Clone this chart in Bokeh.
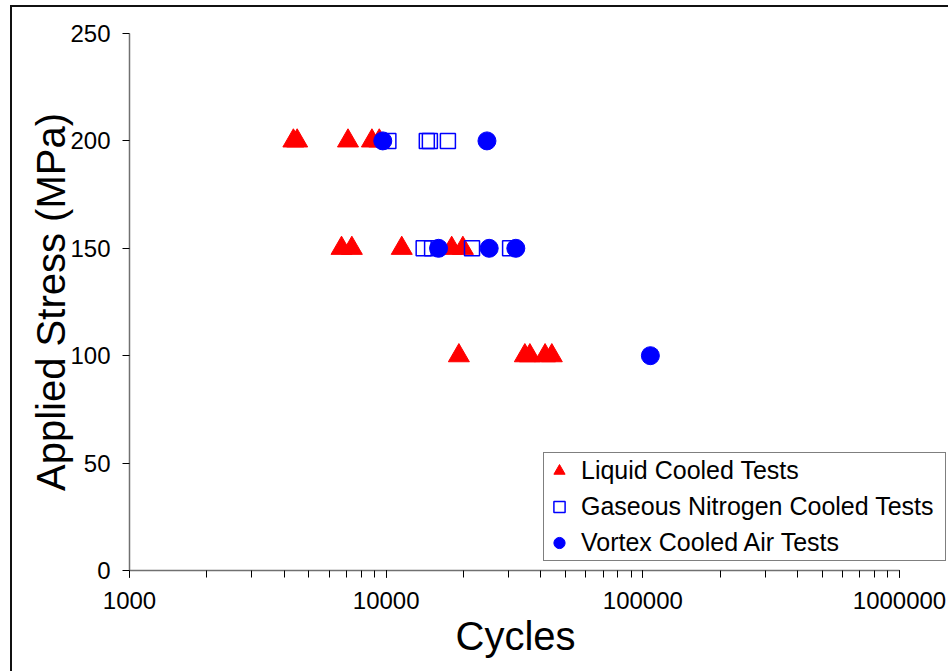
from bokeh.plotting import figure
from bokeh.models import (Range1d, FixedTicker, LogTicker, Legend, LegendItem,
                          InlineStyleSheet, Title)
from bokeh.embed import file_html
from bokeh.resources import INLINE

# Data (cycles, stress in MPa)
liquid_cycles = [4350, 4500, 7100, 8800, 9400, 6700, 7350, 11500, 18000, 19900, 19200, 34700, 36300, 41600, 44200]
liquid_stress = [200, 200, 200, 200, 200, 150, 150, 150, 150, 150, 100, 100, 100, 100, 100]

gn2_cycles = [10200, 14400, 14800, 17400, 14000, 15100, 21600, 30400]
gn2_stress = [200, 200, 200, 200, 150, 150, 150, 150]

vortex_cycles = [9700, 24700, 16000, 25200, 32000, 107000]
vortex_stress = [200, 200, 150, 150, 150, 100]

y_ticks = [0, 50, 100, 150, 200, 250]
x_ticks = [1000, 10000, 100000, 1000000]

FONT = "Liberation Sans"

# frame spans the full right side so the legend is not clipped;
# the axis itself is bounded to 1000..1000000
x_axis_start, x_axis_end = 1000, 1000000
frame_left, frame_right_axis, canvas_w = 129, 899, 948
decades = 3.0 * (canvas_w - frame_left) / (frame_right_axis - frame_left)
x_view_end = x_axis_start * 10 ** decades

p = figure(width=canvas_w, height=671, x_axis_type="log",
           x_range=Range1d(x_axis_start, x_view_end), y_range=Range1d(0, 250),
           output_backend="svg", toolbar_location=None,
           min_border_left=frame_left, min_border_right=0,
           min_border_top=33, min_border_bottom=101)
p.background_fill_color = "white"
p.border_fill_color = "white"
p.outline_line_color = None
p.xgrid.visible = False
p.ygrid.visible = False
p.stylesheets = [InlineStyleSheet(css="""
:host::after {
  content: '';
  position: absolute;
  left: 10px; top: 5px; right: 0; bottom: 0;
  border-left: 2px solid #111;
  border-top: 2px solid #111;
  pointer-events: none;
}
""")]

r_liq = p.scatter(liquid_cycles, liquid_stress, marker="triangle", size=21,
                  fill_color="#ff0000", line_color="#ff0000")
r_gn2 = p.scatter(gn2_cycles, gn2_stress, marker="square", size=15,
                  fill_color=None, line_color="#0000ff", line_width=1.5)
r_vor = p.scatter(vortex_cycles, vortex_stress, marker="circle", size=18,
                  fill_color="#0000ff", line_color="#0000ff")

# Axes
xa = p.xaxis[0]
xa.ticker = LogTicker(desired_num_ticks=4, num_minor_ticks=10)
xa.bounds = (x_axis_start, x_axis_end)
ya = p.yaxis[0]
ya.ticker = FixedTicker(ticks=y_ticks)
ya.axis_label = "Applied Stress (MPa)"

for ax in (xa, ya):
    ax.axis_line_color = "#707070"
    ax.axis_line_width = 1.5
    ax.major_tick_line_color = "black"
    ax.minor_tick_line_color = "black"
    ax.major_tick_in = 0
    ax.major_tick_out = 7
    ax.minor_tick_in = 0
    ax.minor_tick_out = 7
    ax.major_label_text_font = FONT
    ax.major_label_text_font_size = "24px"
    ax.major_label_text_color = "black"
    ax.axis_label_text_font = FONT
    ax.axis_label_text_font_size = "40px"
    ax.axis_label_text_font_style = "normal"
    ax.axis_label_text_color = "black"

ya.minor_tick_out = 0
ya.major_label_standoff = 12
ya.axis_label_standoff = -6
xa.major_label_standoff = 14
xa.major_label_overrides = {t: str(t) for t in x_ticks}

# x-axis title, centred under the bounded axis (not the wider frame)
x_title = Title(text="Cycles", align="left", offset=326,
                text_font=FONT, text_font_size="40px",
                text_font_style="normal", text_color="black", standoff=0)
p.add_layout(x_title, "below")

legend = Legend(items=[
    LegendItem(label="Liquid Cooled Tests", renderers=[r_liq]),
    LegendItem(label="Gaseous Nitrogen Cooled Tests", renderers=[r_gn2]),
    LegendItem(label="Vortex Cooled Air Tests", renderers=[r_vor]),
], location=(414, 9))
legend.label_text_font = FONT
legend.label_text_font_size = "25px"
legend.label_text_color = "black"
legend.glyph_width = 28
legend.glyph_height = 33
legend.label_height = 33
legend.label_width = 363
legend.label_standoff = 8
legend.spacing = 3
legend.padding = 1
legend.margin = 0
legend.border_line_color = "black"
legend.border_line_width = 1.5
legend.background_fill_color = "white"
legend.background_fill_alpha = 1
p.add_layout(legend, "center")

open("out.html", "w").write(file_html(p, INLINE))
